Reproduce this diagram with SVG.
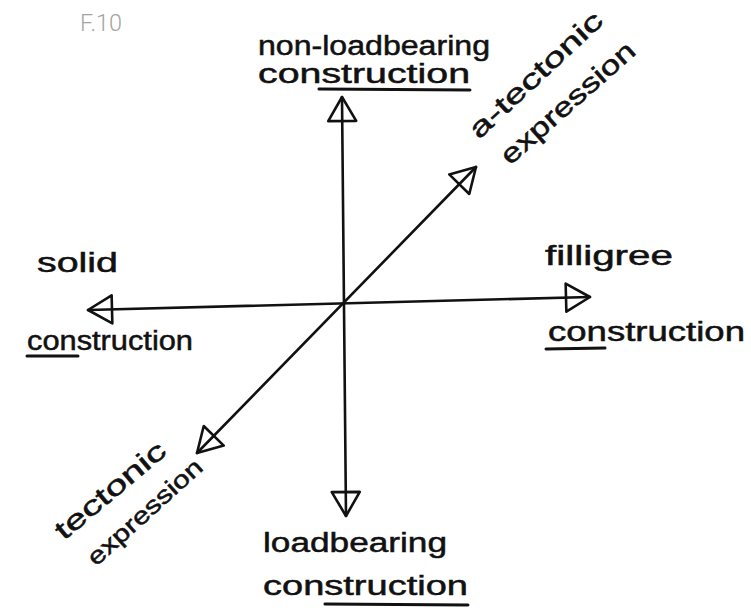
<svg xmlns="http://www.w3.org/2000/svg" width="751" height="611" viewBox="0 0 751 611">
  <defs>
    <marker id="open" markerUnits="userSpaceOnUse" viewBox="0 0 30 32" markerWidth="30" markerHeight="32" refX="27" refY="16" orient="auto-start-reverse" overflow="visible">
      <path d="M27,16 L3,2 L3,30 Z" fill="none" stroke="#111" stroke-width="2.6" stroke-linejoin="round"/>
    </marker>
  </defs>
  <style>
    .hand { font-family: "Liberation Sans", "DejaVu Sans", sans-serif; font-size: 27px; fill: #111; stroke: #111; stroke-width: 0.5; }
    .small { font-size: 24px; }
    .ul { stroke: #111; stroke-width: 3; stroke-linecap: round; fill: none; }
    .axis { stroke: #111; stroke-width: 2.6; fill: none; stroke-linecap: round; }
    .fig { font-family: "Roboto", "Liberation Sans", sans-serif; font-weight: 300; font-size: 24px; fill: #a3a3a3; }
  </style>
  <rect width="751" height="611" fill="#ffffff"/>
  <text class="fig" x="80" y="31" textLength="42" lengthAdjust="spacingAndGlyphs">F.10</text>

  <g id="connectors">
    <path class="axis" d="M342,97 L346,516" marker-start="url(#open)" marker-end="url(#open)"/>
    <path class="axis" d="M88,310 L590,297" marker-start="url(#open)" marker-end="url(#open)"/>
    <path class="axis" d="M197,453 L476,167" marker-start="url(#open)" marker-end="url(#open)"/>
  </g>

  <g id="non-loadbearing">
    <text class="hand" x="258" y="55" textLength="232" lengthAdjust="spacingAndGlyphs">non-loadbearing</text>
    <text class="hand" x="258" y="83" textLength="212" lengthAdjust="spacingAndGlyphs">construction</text>
    <line class="ul" x1="319" y1="89" x2="470" y2="90"/>
  </g>

  <g id="a-tectonic">
    <text class="hand" transform="translate(479,140) rotate(-43)" textLength="172" lengthAdjust="spacingAndGlyphs">a-tectonic</text>
    <text class="hand" transform="translate(510,166) rotate(-41.5)" textLength="170" lengthAdjust="spacingAndGlyphs">expression</text>
  </g>

  <g id="solid">
    <text class="hand" x="37" y="272" textLength="81" lengthAdjust="spacingAndGlyphs">solid</text>
    <text class="hand" x="27" y="350" textLength="166" lengthAdjust="spacingAndGlyphs">construction</text>
    <line class="ul" x1="27" y1="356" x2="78" y2="356"/>
  </g>

  <g id="filligree">
    <text class="hand" x="545" y="265" textLength="128" lengthAdjust="spacingAndGlyphs">filligree</text>
    <text class="hand" x="548" y="341" textLength="197" lengthAdjust="spacingAndGlyphs">construction</text>
    <line class="ul" x1="546" y1="349" x2="605" y2="348"/>
  </g>

  <g id="tectonic">
    <text class="hand" transform="translate(64,541) rotate(-40)" textLength="136" lengthAdjust="spacingAndGlyphs">tectonic</text>
    <text class="hand small" transform="translate(96,567) rotate(-42)" textLength="146" lengthAdjust="spacingAndGlyphs">expression</text>
  </g>

  <g id="loadbearing">
    <text class="hand" x="263" y="552" textLength="184" lengthAdjust="spacingAndGlyphs">loadbearing</text>
    <text class="hand" x="263" y="595" textLength="205" lengthAdjust="spacingAndGlyphs">construction</text>
    <line class="ul" x1="325" y1="604" x2="468" y2="605"/>
  </g>
</svg>
